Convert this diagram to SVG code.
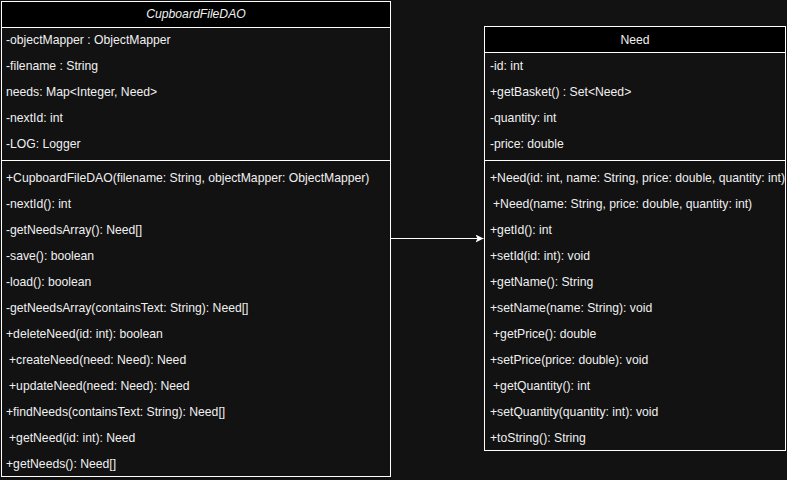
<svg xmlns="http://www.w3.org/2000/svg" width="787" height="480" viewBox="0 0 787 480">
<defs>
<style>
.box{fill:#121212;stroke:#ffffff;stroke-width:1}
.hdr{fill:#000000;stroke:#ffffff;stroke-width:1}
.sep{stroke:#ffffff;stroke-width:1}
text{font-family:"Liberation Sans",Arial,sans-serif;font-size:12.2px;fill:#f0f0f0}
.title{text-anchor:middle}
.it{font-style:italic}
.conn{stroke:#ffffff;stroke-width:1;fill:none}
</style>
<marker id="arrow" markerWidth="10" markerHeight="10" refX="8" refY="4" orient="auto" markerUnits="userSpaceOnUse">
<path d="M0,0 L8,4 L0,8 L2,4 Z" fill="#ffffff"/>
</marker>
</defs>
<rect x="0" y="0" width="787" height="480" fill="#121212"/>
<g id="CupboardFileDAO">
<rect class="box" x="1.5" y="1.5" width="389" height="475"/>
<rect class="hdr" x="1.5" y="1.5" width="389" height="26"/>
<text class="title it" x="196" y="18">CupboardFileDAO</text>
<text x="6" y="44">-objectMapper : ObjectMapper</text>
<text x="6" y="70">-filename : String</text>
<text x="6" y="96">needs: Map&lt;Integer, Need&gt;</text>
<text x="6" y="122">-nextId: int</text>
<text x="6" y="148">-LOG: Logger</text>
<line class="sep" x1="1.5" y1="160.5" x2="390.5" y2="160.5"/>
<text x="6" y="182">+CupboardFileDAO(filename: String, objectMapper: ObjectMapper)</text>
<text x="6" y="208">-nextId(): int</text>
<text x="6" y="234">-getNeedsArray(): Need[]</text>
<text x="6" y="260">-save(): boolean</text>
<text x="6" y="286">-load(): boolean</text>
<text x="6" y="312">-getNeedsArray(containsText: String): Need[]</text>
<text x="6" y="338">+deleteNeed(id: int): boolean</text>
<text x="9" y="364">+createNeed(need: Need): Need</text>
<text x="9" y="390">+updateNeed(need: Need): Need</text>
<text x="6" y="416">+findNeeds(containsText: String): Need[]</text>
<text x="9" y="442">+getNeed(id: int): Need</text>
<text x="6" y="468">+getNeeds(): Need[]</text>
</g>
<g id="Need">
<rect class="box" x="484.5" y="26.5" width="301" height="424"/>
<rect class="hdr" x="484.5" y="26.5" width="301" height="26"/>
<text class="title" x="635" y="44">Need</text>
<text x="490" y="69.5">-id: int</text>
<text x="490" y="95.5">+getBasket() : Set&lt;Need&gt;</text>
<text x="490" y="121.5">-quantity: int</text>
<text x="490" y="147.5">-price: double</text>
<line class="sep" x1="484.5" y1="160.5" x2="785.5" y2="160.5"/>
<text x="490" y="181.5">+Need(id: int, name: String, price: double, quantity: int)</text>
<text x="493" y="207.5">+Need(name: String, price: double, quantity: int)</text>
<text x="490" y="233.5">+getId(): int</text>
<text x="490" y="259.5">+setId(id: int): void</text>
<text x="490" y="285.5">+getName(): String</text>
<text x="490" y="311.5">+setName(name: String): void</text>
<text x="493" y="337.5">+getPrice(): double</text>
<text x="490" y="363.5">+setPrice(price: double): void</text>
<text x="493" y="389.5">+getQuantity(): int</text>
<text x="490" y="415.5">+setQuantity(quantity: int): void</text>
<text x="490" y="441.5">+toString(): String</text>
</g>
<g id="connectors">
<line class="conn" x1="390.5" y1="238.5" x2="483.5" y2="238.5" marker-end="url(#arrow)"/>
</g>
</svg>
